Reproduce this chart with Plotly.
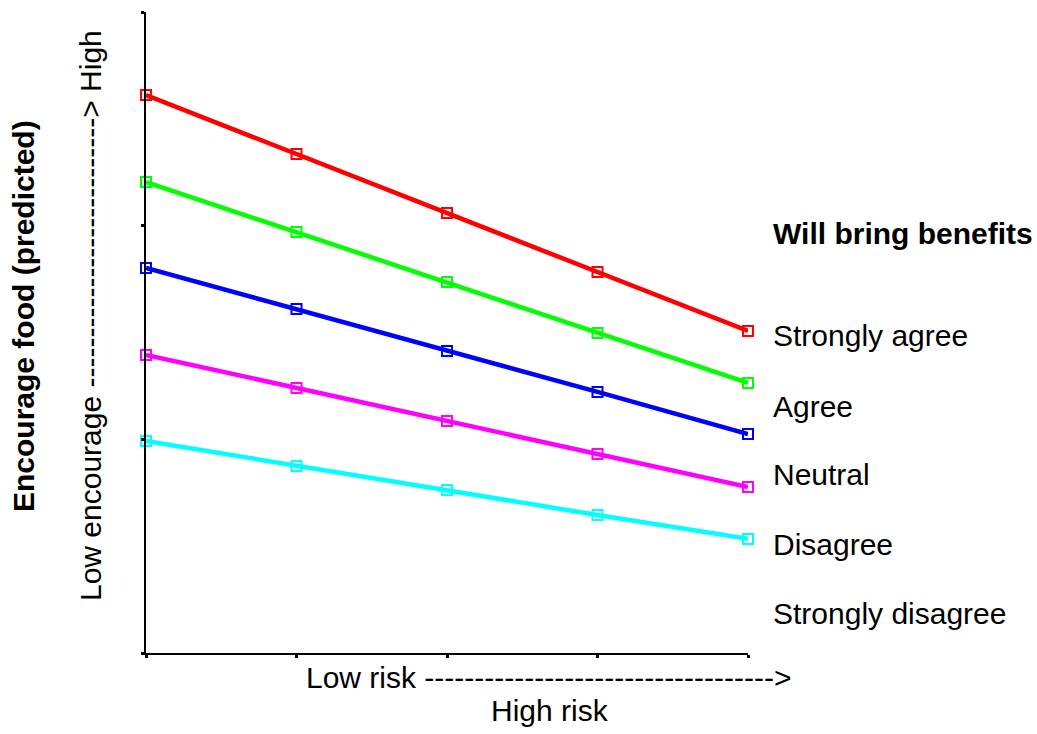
import plotly.graph_objects as go

risk_levels = [1, 2, 3, 4, 5]
series_names = ["Strongly agree", "Agree", "Neutral", "Disagree", "Strongly disagree"]
strongly_agree = [2.611, 2.335, 2.059, 1.783, 1.507]
agree = [2.204, 1.970, 1.736, 1.498, 1.264]
neutral = [1.802, 1.610, 1.413, 1.222, 1.025]
disagree = [1.395, 1.240, 1.086, 0.931, 0.777]
strongly_disagree = [0.992, 0.875, 0.763, 0.646, 0.534]
series_values = [strongly_agree, agree, neutral, disagree, strongly_disagree]
colors = ["#ff0000", "#00ff00", "#0000ff", "#ff00ff", "#00ffff"]

legend_title = "Will bring benefits"
y_title = "Encourage food (predicted)"
y_subtitle = "Low encourage " + "-" * 27 + "> High"
x_title1 = "Low risk " + "-" * 35 + ">"
x_title2 = "High risk"

W, H = 1037, 734
L, R, T, B = 146, 748, 12, 653

def px(x):
    return (x - L) / (R - L)

def py(y):
    return (B - y) / (B - T)

fig = go.Figure()
for name, vals, c in zip(series_names, series_values, colors):
    fig.add_trace(go.Scatter(
        x=risk_levels, y=vals, mode="lines+markers", name=name,
        line=dict(color=c, width=4.5),
        marker=dict(symbol="square-open", size=10, color=c, line=dict(width=2, color=c)),
        cliponaxis=False, showlegend=False,
    ))

font = "Liberation Sans, Arial, sans-serif"
FS = 30
ann = []
ann.append(dict(text="<b>" + legend_title + "</b>", x=px(772), y=py(233), xanchor="left", yanchor="middle",
                font=dict(size=FS, color="black", family=font)))
label_y = [335, 406, 475, 544, 613]
for name, yy in zip(series_names, label_y):
    ann.append(dict(text=name, x=px(772), y=py(yy), xanchor="left", yanchor="middle",
                    font=dict(size=FS, color="black", family=font)))
ann.append(dict(text="<b>" + y_title + "</b>", x=px(23), y=py(316), xanchor="center", yanchor="middle",
                textangle=-90, font=dict(size=FS, color="black", family=font)))
ann.append(dict(text=y_subtitle, x=px(90), y=py(316), xanchor="center", yanchor="middle",
                textangle=-90, font=dict(size=FS, color="black", family=font)))
ann.append(dict(text=x_title1, x=px(549), y=py(677), xanchor="center", yanchor="middle",
                font=dict(size=FS, color="black", family=font)))
ann.append(dict(text=x_title2, x=px(550), y=py(710), xanchor="center", yanchor="middle",
                font=dict(size=FS, color="black", family=font)))
for a in ann:
    a.update(xref="paper", yref="paper", showarrow=False, borderpad=0)

fig.update_layout(
    width=W, height=H,
    margin=dict(l=L, r=W - R, t=T, b=H - B, pad=0),
    plot_bgcolor="white", paper_bgcolor="white",
    annotations=ann,
    xaxis=dict(range=[1, 5], tickvals=risk_levels, showticklabels=False, ticks="outside",
               ticklen=3, tickwidth=3, tickcolor="black", showline=True, linecolor="black",
               linewidth=2, showgrid=False, zeroline=False),
    yaxis=dict(range=[0, 3], tickvals=[0, 1, 2, 3], showticklabels=False, ticks="outside",
               ticklen=3, tickwidth=3, tickcolor="black", showline=True, linecolor="black",
               linewidth=2, showgrid=False, zeroline=False),
)
fig.write_html("out.html", config={"displayModeBar": False},
               post_script="document.body.style.margin='0';document.body.style.overflow='hidden';")
